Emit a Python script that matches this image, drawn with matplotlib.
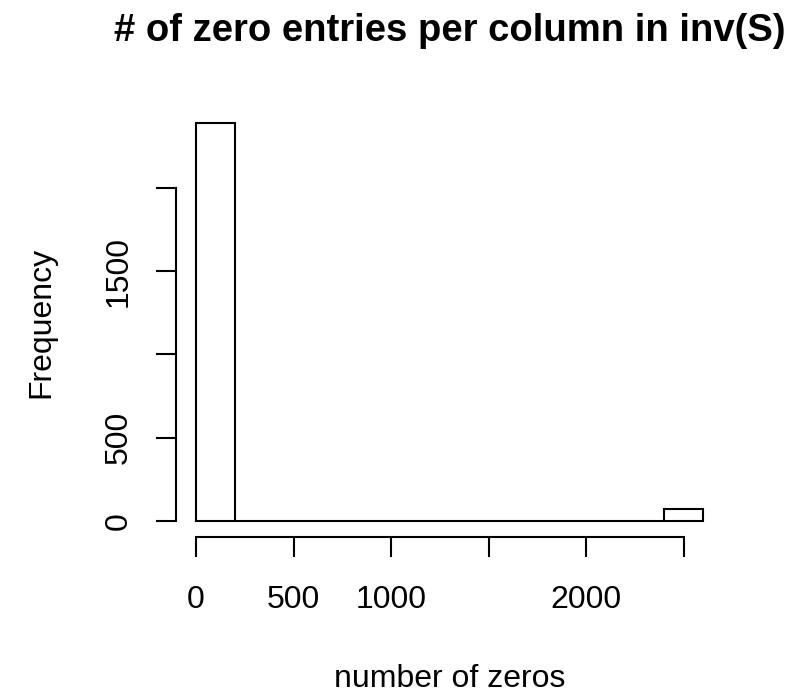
import matplotlib
matplotlib.use('Agg')
import matplotlib.pyplot as plt
import numpy as np

# histogram of zero counts per column (bins of width 200)
bin_edges = [0, 200, 400, 600, 800, 1000, 1200, 1400, 1600, 1800, 2000, 2200, 2400, 2600]
counts = [2389, 0, 0, 0, 0, 0, 0, 0, 0, 0, 0, 0, 70]

x_ticks = [0, 500, 1000, 1500, 2000, 2500]
x_tick_labels = ['0', '500', '1000', '', '2000', '']
y_ticks = [0, 500, 1000, 1500, 2000]
y_tick_labels = ['0', '500', '', '1500', '']

title = '# of zero entries per column in inv(S)'
x_label = 'number of zeros'
y_label = 'Frequency'

plt.rcParams['font.family'] = ['Liberation Sans', 'DejaVu Sans']

W, H = 799, 693
fig = plt.figure(figsize=(W / 100, H / 100), dpi=100)

# plot region in pixels (left, top, right, bottom)
L, T, R, B = 175.7, 107.3, 723.8, 536.9
ax = fig.add_axes([L / W, 1 - B / H, (R - L) / W, (B - T) / H])

widths = np.diff(bin_edges)
ax.bar(bin_edges[:-1], counts, width=widths, align='edge',
       facecolor='white', edgecolor='black', linewidth=1.5)

# R style 4% padding
xr = bin_edges[-1] - bin_edges[0]
ax.set_xlim(bin_edges[0] - 0.04 * xr, bin_edges[-1] + 0.04 * xr)
ymax = max(counts)
ax.set_ylim(-0.04 * ymax, 1.04 * ymax)

for s in ['top', 'right']:
    ax.spines[s].set_visible(False)
ax.spines['left'].set_bounds(y_ticks[0], y_ticks[-1])
ax.spines['bottom'].set_bounds(x_ticks[0], x_ticks[-1])
for s in ['left', 'bottom']:
    ax.spines[s].set_linewidth(1.5)

ax.set_xticks(x_ticks)
ax.set_xticklabels(x_tick_labels)
ax.set_yticks(y_ticks)
ax.set_yticklabels(y_tick_labels, rotation=90, va='center')
ax.tick_params(axis='both', length=14.5, width=1.5, labelsize=23, direction='out')
ax.tick_params(axis='x', pad=20)
ax.tick_params(axis='y', pad=16)

fig.text(449.7 / W, 1 - 40.7 / H, title, ha='center', va='baseline',
         fontsize=27.5, fontweight='bold')
fig.text(449.7 / W, 1 - 687 / H, x_label, ha='center', va='baseline', fontsize=23)
fig.text(41 / W, 1 - 322 / H, y_label, ha='center', va='center', rotation=90, fontsize=23)

fig.savefig('out.png', dpi=100)
